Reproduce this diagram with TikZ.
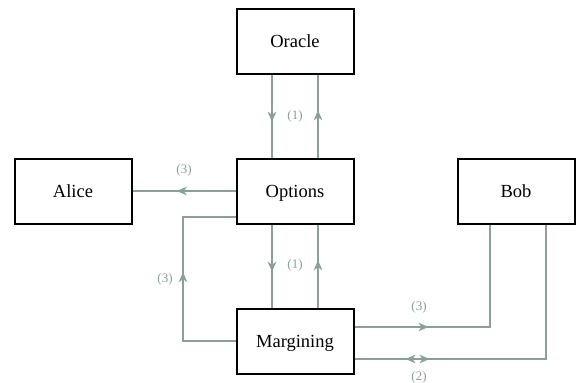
\documentclass[tikz,border=0pt]{standalone}
\usepackage{fontspec}
\setmainfont{Liberation Serif}
\usetikzlibrary{arrows.meta,decorations.markings,calc}
\definecolor{conn}{RGB}{138,158,154}
\begin{document}
\begin{tikzpicture}[x=1pt,y=-1pt,
  box/.style={draw=black,line width=2pt,minimum width=117pt,minimum height=65pt,inner sep=0pt,text height=16.3pt,text depth=4pt,font=\fontsize{18.5}{22}\selectfont},
  link/.style={draw=conn,line width=1.7pt},
  tip/.tip={Stealth[length=10pt,width=8.5pt,inset=3pt]},
  midarrow/.style={postaction={decorate},decoration={markings,mark=at position #1 with {\arrow{tip}}}},
  lbl/.style={text=conn,font=\fontsize{13}{15}\selectfont,inner sep=1pt}]
\useasboundingbox (0,0) rectangle (576,383);
\node[box] (oracle) at (295,41) {Oracle};
\node[box] (options) at (295,191) {Options};
\node[box] (alice) at (73,191) {Alice};
\node[box] (bob) at (516,191) {Bob};
\node[box] (marg) at (295,341) {Margining};
% Oracle <-> Options
\draw[link,midarrow=0.57] ([xshift=-23pt]oracle.south) -- ([xshift=-23pt]options.north);
\draw[link,midarrow=0.57] ([xshift=23pt]options.north) -- ([xshift=23pt]oracle.south);
\node[lbl] (l1) at (295,116) {(1)};
% Options <-> Margining
\draw[link,midarrow=0.57] ([xshift=-23pt]options.south) -- ([xshift=-23pt]marg.north);
\draw[link,midarrow=0.57] ([xshift=23pt]marg.north) -- ([xshift=23pt]options.south);
\node[lbl] (l2) at (295,265) {(1)};
% Options -> Alice
\draw[link,midarrow=0.57] (options.west) -- (alice.east);
\node[lbl] (l3) at (184,170) {(3)};
% Margining -> Options loop
\coordinate (lc1) at (183,341);
\coordinate (lc2) at (183,217);
\draw[link,midarrow=0.53] (marg.west) -- (lc1) -- (lc2) -- (options.west |- lc2);
\node[lbl] (l4) at (165,279) {(3)};
% Margining -> Bob (3)
\coordinate (bc1) at (490,327);
\draw[link,midarrow=74pt] (marg.east |- bc1) -- (bc1) -- (bob.south -| bc1);
\node[lbl] (l5) at (419,307) {(3)};
% Margining <-> Bob (2)
\coordinate (bc2) at (546,359);
\draw[link,postaction={decorate},decoration={markings,
   mark=at position 51pt with {\arrowreversed{tip}},
   mark=at position 75pt with {\arrow{tip}}}]
   (marg.east |- bc2) -- (bc2) -- (bob.south -| bc2);
\node[lbl] (l6) at (419,377) {(2)};
\end{tikzpicture}
\end{document}
